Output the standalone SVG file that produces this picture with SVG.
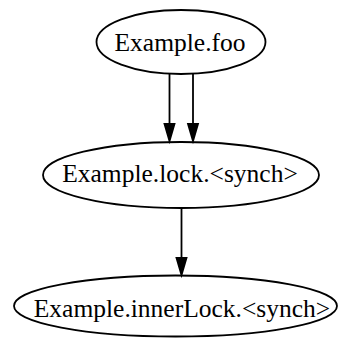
<svg xmlns="http://www.w3.org/2000/svg" width="342" height="338" viewBox="0 0 342 338">
<defs>
<style>
.node ellipse{fill:none;stroke:#000;stroke-width:1.8}
.node text{font-family:"Liberation Serif","Times New Roman",serif;font-size:25.5px;fill:#000;text-anchor:middle}
.edge{stroke:#000;stroke-width:1.8;fill:none}
.head{fill:#000;stroke:#000;stroke-width:1.8}
</style>
</defs>
<rect width="342" height="338" fill="#fff"/>
<g id="connectors">
<line class="edge" x1="169.5" y1="74" x2="169.5" y2="124"/>
<polygon class="head" points="164.5,124 174.5,124 169.5,141"/>
<line class="edge" x1="193" y1="74" x2="193" y2="124"/>
<polygon class="head" points="188,124 198,124 193,141"/>
<line class="edge" x1="181.5" y1="208" x2="181.5" y2="258"/>
<polygon class="head" points="176.5,258 186.5,258 181.5,275"/>
</g>
<g id="node-foo" class="node">
<ellipse cx="181" cy="42" rx="84.5" ry="32"/>
<text x="180" y="50.5">Example.foo</text>
</g>
<g id="node-lock" class="node">
<ellipse cx="181" cy="175" rx="138" ry="33"/>
<text x="180" y="182">Example.lock.&lt;synch&gt;</text>
</g>
<g id="node-innerLock" class="node">
<ellipse cx="175.5" cy="306" rx="161.5" ry="30.5"/>
<text x="182" y="317">Example.innerLock.&lt;synch&gt;</text>
</g>
</svg>
